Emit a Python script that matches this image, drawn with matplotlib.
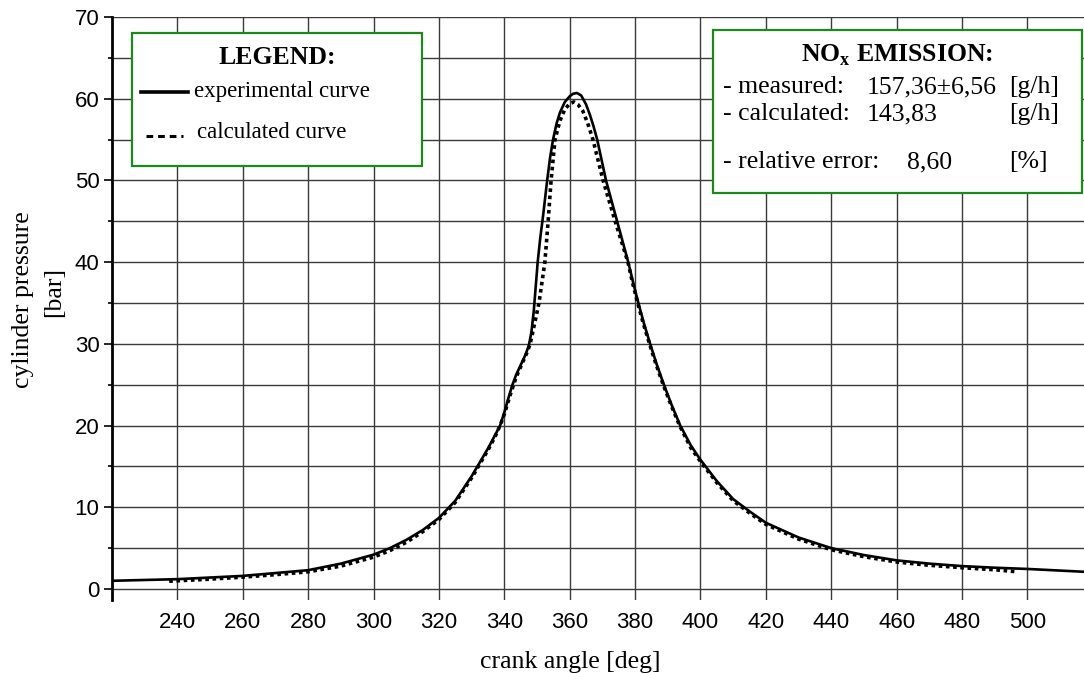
import matplotlib
matplotlib.use("Agg")
import matplotlib.pyplot as plt
from matplotlib.patches import Rectangle
from matplotlib.lines import Line2D

# ---- data ----
exp_angle = [220, 230, 240, 250, 260, 270, 280, 290, 300, 305, 310, 315, 320, 325, 330, 335,
             337, 338.7, 340, 341.2, 342.4, 343.6, 345, 346.5, 347.5, 348.3, 349, 349.6, 350.2,
             351, 351.8, 353.1, 354, 354.9, 356, 357, 358.5, 360, 361, 362.2, 363.5, 365, 366.2,
             367.3, 368.4, 371.1, 374.5, 377.9, 379.4, 381.0, 382.7, 384.6, 386.6, 388.8, 391.2,
             393.8, 397, 400, 405, 410, 415, 420, 430, 440, 450, 460, 470, 480, 490, 500, 510, 517.5]
exp_pressure = [1.0, 1.1, 1.2, 1.4, 1.6, 1.95, 2.3, 3.1, 4.2, 5.0, 6.0, 7.2, 8.7, 10.8, 13.8, 17.2,
                18.7, 20.0, 21.6, 23.3, 24.9, 26.2, 27.4, 28.7, 29.8, 31.5, 34.0, 37.0, 40.0,
                43.0, 45.5, 50.0, 52.8, 55.0, 57.0, 58.3, 59.6, 60.3, 60.6, 60.7, 60.4, 59.3, 58.0,
                56.6, 55.0, 50.0, 45.0, 40.0, 37.5, 35.0, 32.5, 30.0, 27.5, 25.0, 22.5,
                20.0, 17.6, 15.8, 13.2, 11.0, 9.5, 8.1, 6.3, 5.0, 4.15, 3.5, 3.1, 2.8, 2.6, 2.45, 2.25, 2.1]

calc_angle = [237.5, 240, 250, 260, 270, 280, 290, 300, 305, 310, 315, 320, 325, 330, 335, 337,
              338.7, 340, 342, 343.6, 345, 347, 347.9, 349, 350.6, 352.4, 353.4, 354.3, 355.5,
              357, 358.5, 360, 361.3, 362.5, 364, 365.5, 367.1, 370.2, 373.9, 377.8, 379.2, 380.8,
              382.5, 384.4, 386.4, 388.6, 391.0, 393.6, 397, 400, 405, 410, 415, 420, 430, 440, 450,
              460, 470, 480, 490, 497]
calc_pressure = [0.95, 1.0, 1.2, 1.45, 1.75, 2.1, 2.8, 3.9, 4.7, 5.7, 7.0, 8.5, 10.6, 13.6, 17.0, 18.5,
                 20.0, 21.4, 24.0, 25.9, 27.2, 29.0, 30.0, 32.0, 35.0, 40.0, 45.0, 50.0, 55.0,
                 57.3, 58.7, 59.4, 59.6, 59.3, 58.5, 57.0, 55.0, 50.0, 45.0, 40.0, 37.5, 35.0,
                 32.5, 30.0, 27.5, 25.0, 22.5, 20.0, 17.3, 15.6, 13.0, 10.8, 9.3, 7.9, 6.1, 4.8, 3.95,
                 3.3, 2.9, 2.6, 2.35, 2.1]

x_ticks = [240, 260, 280, 300, 320, 340, 360, 380, 400, 420, 440, 460, 480, 500]
y_ticks = [0, 10, 20, 30, 40, 50, 60, 70]
y_minor = [5, 15, 25, 35, 45, 55, 65]

legend_title = "LEGEND:"
legend_labels = ["experimental curve", "calculated curve"]
nox_title = r"NO$_\mathbf{x}$ EMISSION:"
nox_rows = [("- measured:", "157,36\u00b16,56", "[g/h]"),
            ("- calculated:", "143,83", "[g/h]"),
            ("- relative error:", "8,60", "[%]")]

# ---- styling ----
plt.rcParams['mathtext.fontset'] = 'custom'
plt.rcParams['mathtext.rm'] = 'Liberation Serif'
plt.rcParams['mathtext.bf'] = 'Liberation Serif:bold'
SERIF = 'Liberation Serif'
SANS = 'Liberation Sans'
GREEN = '#1b8a1b'

W, H = 1084, 673
fig = plt.figure(figsize=(W / 100, H / 100), dpi=100)


def fx(px):
    return px / W


def fy(py):
    return 1 - py / H


ax = fig.add_axes([fx(112), fy(600), fx(1084 - 112), (600 - 17) / H])
ax.set_xlim(220, 517.3)
ax.set_ylim(-1.35, 70)

ax.plot(exp_angle, exp_pressure, color='black', lw=1.9, zorder=3, solid_joinstyle='round')
ax.plot(calc_angle, calc_pressure, color='black', lw=2.6, zorder=3,
        linestyle=(0, (1.0, 1.0)), dash_capstyle='butt')

ax.set_xticks(x_ticks)
ax.set_yticks(y_ticks)
ax.set_yticks(y_minor, minor=True)
ax.grid(True, which='both', color='#3a3a3a', lw=1.0, zorder=1)
ax.tick_params(axis='x', length=0, pad=9, labelsize=16)
ax.tick_params(axis='y', which='major', length=6, width=1.2, pad=3, labelsize=16, direction='out')
ax.tick_params(axis='y', which='minor', length=3, width=1.2, direction='out')
for lab in ax.get_xticklabels() + ax.get_yticklabels():
    lab.set_fontfamily(SANS)
for s in ['top', 'right', 'bottom']:
    ax.spines[s].set_visible(False)
ax.spines['left'].set_linewidth(2.0)

# axis labels
fig.text(fx(570), fy(662), "crank angle [deg]", family=SERIF, fontsize=18.5,
         ha='center', va='center')
fig.text(fx(23), fy(300), "cylinder pressure", family=SERIF, fontsize=18.5,
         ha='center', va='center', rotation=90)
fig.text(fx(54), fy(292), "[bar]", family=SERIF, fontsize=18.5,
         ha='center', va='center', rotation=90)

# legend box
fig.add_artist(Rectangle((fx(132), fy(166)), fx(422 - 132), (166 - 33) / H,
                         transform=fig.transFigure, facecolor='white', edgecolor=GREEN,
                         lw=1.6, zorder=5))
fig.text(fx(277), fy(57), legend_title, family=SERIF, fontsize=18.5, weight='bold',
         ha='center', va='center', zorder=6)
fig.add_artist(Line2D([fx(141), fx(188)], [fy(92), fy(92)], transform=fig.transFigure,
                      color='black', lw=2.6, zorder=6))
fig.text(fx(194), fy(92), legend_labels[0], family=SERIF, fontsize=16.5,
         ha='left', va='center', zorder=6)
fig.add_artist(Line2D([fx(146), fx(183)], [fy(136), fy(136)], transform=fig.transFigure,
                      color='black', lw=2.2, linestyle=(0, (2.2, 1.6)), zorder=6))
fig.text(fx(197), fy(133), legend_labels[1], family=SERIF, fontsize=16.5,
         ha='left', va='center', zorder=6)

# NOx box
fig.add_artist(Rectangle((fx(713), fy(193)), fx(1082 - 713), (193 - 30) / H,
                         transform=fig.transFigure, facecolor='white', edgecolor=GREEN,
                         lw=1.6, zorder=5))
fig.text(fx(897), fy(55), nox_title, family=SERIF, fontsize=18.5, weight='bold',
         ha='center', va='center', zorder=6)
row_y = [87, 114, 162]
val_x = [867, 867, 907]
for (lab, val, unit), yy, vx in zip(nox_rows, row_y, val_x):
    fig.text(fx(723), fy(yy), lab, family=SERIF, fontsize=18.5, ha='left', va='center', zorder=6)
    fig.text(fx(vx), fy(yy), val, family=SERIF, fontsize=18.5, ha='left', va='center', zorder=6)
    fig.text(fx(1009), fy(yy), unit, family=SERIF, fontsize=18.5, ha='left', va='center', zorder=6)

fig.savefig("out.png", dpi=100)
